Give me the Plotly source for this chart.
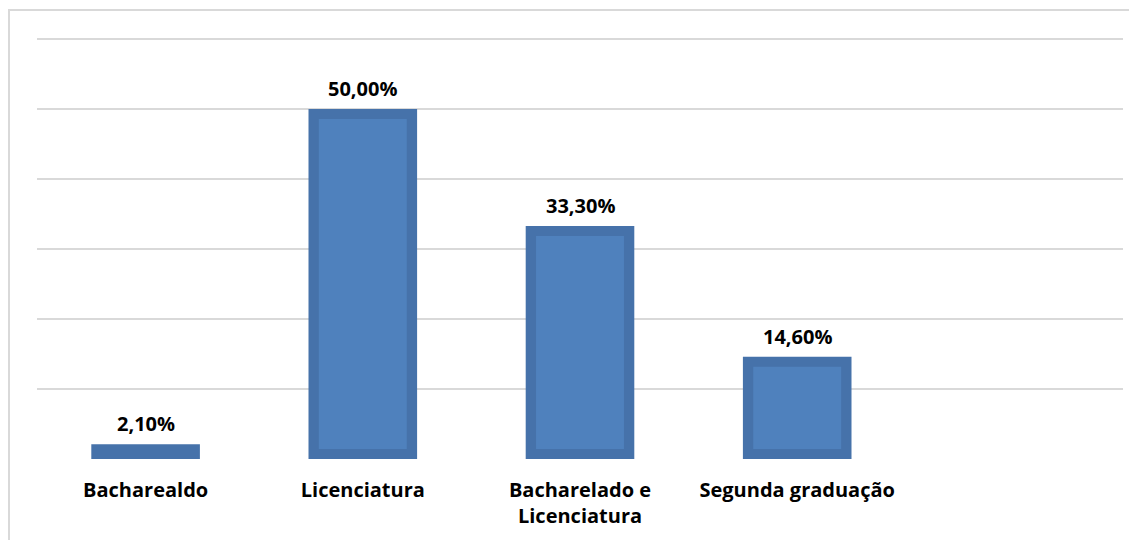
import plotly.graph_objects as go

categories = ["Bacharealdo", "Licenciatura", "Bacharelado e<br>Licenciatura", "Segunda graduação"]
values = [2.1, 50.0, 33.3, 14.6]
value_labels = ["2,10%", "50,00%", "33,30%", "14,60%"]

BORDER_PCT = 10 / 7.0  # inset border thickness in data units (%)
FONT = "Open Sans"

x_pos = list(range(len(categories)))

fig = go.Figure()
fig.add_trace(go.Bar(
    x=x_pos, y=values, width=0.5,
    marker=dict(color="#4672AA", line=dict(width=0)),
    hoverinfo="skip",
))
inner_y = [max(v - 2 * BORDER_PCT, 0) for v in values]
fig.add_trace(go.Bar(
    x=x_pos, y=inner_y, base=[BORDER_PCT] * len(values), width=0.405,
    marker=dict(color="#4F81BD", line=dict(width=0)),
    hoverinfo="skip",
))

for xi, v, lab in zip(x_pos, values, value_labels):
    fig.add_annotation(x=xi, y=v, text=f"<b>{lab}</b>", showarrow=False,
                       yanchor="bottom", yshift=5,
                       font=dict(family=FONT, size=20, color="#000000"))

W, H = 1129, 532
L, R, T, B = 29, 14, 29, 81
pw, ph = W - L - R, H - T - B

fig.update_layout(
    width=W, height=H,
    margin=dict(l=L, r=R, t=T, b=B),
    paper_bgcolor="white", plot_bgcolor="white",
    barmode="overlay", showlegend=False,
    font=dict(family=FONT, size=20, color="#000000"),
    xaxis=dict(range=[-0.5, 4.5], tickvals=x_pos,
               ticktext=[f"<b>{c}</b>" for c in categories],
               showgrid=False, zeroline=False, showline=False, ticks="",
               ticklabelstandoff=17, automargin=False,
               tickfont=dict(family=FONT, size=20, color="#000000")),
    yaxis=dict(range=[0, 60.3], dtick=10, showticklabels=False,
               showgrid=True, gridcolor="#d9d9d9", gridwidth=2,
               zeroline=False, showline=False, ticks="", automargin=False),
    shapes=[dict(type="rect", xref="paper", yref="paper",
                 x0=(1 - L) / pw, x1=1.2, y0=-0.5, y1=1 + (T - 2) / ph,
                 line=dict(color="#d9d9d9", width=2), fillcolor="rgba(0,0,0,0)",
                 layer="below")],
)

fig.write_html("out.html")
